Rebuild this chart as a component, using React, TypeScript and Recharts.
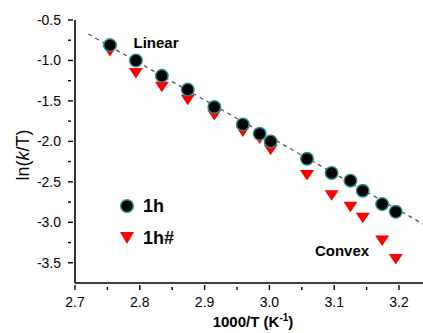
import {
  ComposedChart, Scatter, XAxis, YAxis, ReferenceLine, ReferenceDot,
} from 'recharts'

// 1000/T values shared by both samples
const invT = [2.754, 2.794, 2.834, 2.874, 2.915, 2.959, 2.985, 3.002, 3.058, 3.096, 3.125, 3.144, 3.174, 3.195]
// ln(k/T), sample 1h
const ln1h = [-0.81, -1.0, -1.19, -1.36, -1.575, -1.79, -1.906, -2.0, -2.215, -2.39, -2.485, -2.61, -2.775, -2.87]
// ln(k/T), sample 1h#
const ln1hHash = [-0.87, -1.14, -1.31, -1.47, -1.66, -1.865, -1.95, -2.09, -2.4, -2.65, -2.795, -2.93, -3.21, -3.44]
// dashed linear fit ends
const fitX = [2.7206, 3.237]
const fitY = [-0.674, -3.02]

const xTicks = [2.7, 2.75, 2.8, 2.85, 2.9, 2.95, 3.0, 3.05, 3.1, 3.15, 3.2]
const yTicks = [-0.5, -0.75, -1.0, -1.25, -1.5, -1.75, -2.0, -2.25, -2.5, -2.75, -3.0, -3.25, -3.5]

const data1h = invT.map((x, i) => ({ x, y: ln1h[i] }))
const data1hHash = invT.map((x, i) => ({ x, y: ln1hHash[i] }))

const FONT = 'Arial, "Liberation Sans", sans-serif'

const isMajor = (v: number) => Math.round(v * 100) % 50 === 0

const Dot = (p: any) => (
  <circle cx={p.cx} cy={p.cy} r={6.3} fill="#050505" stroke="#2f8f8f" strokeWidth={1.4} />
)

const Tri = (p: any) => {
  const s = 7
  return (
    <polygon
      points={`${p.cx - s},${p.cy - s * 0.55} ${p.cx + s},${p.cy - s * 0.55} ${p.cx},${p.cy + s * 0.95}`}
      fill="#ff0000"
    />
  )
}

const XTick = (p: any) => {
  const v = p.payload.value
  const major = Math.round(v * 100) % 10 === 0
  return (
    <g>
      <line x1={p.x} x2={p.x} y1={p.y - 1} y2={p.y - (major ? 6 : 4)} stroke="#000" strokeWidth={1.4} />
      {major && (
        <text x={p.x} y={p.y + 16} textAnchor="middle" fontSize={14} fontFamily={FONT} fill="#000">
          {v.toFixed(1)}
        </text>
      )}
    </g>
  )
}

const YTick = (p: any) => {
  const v = p.payload.value
  const major = isMajor(v)
  return (
    <g>
      <line x1={p.x + 1} x2={p.x + (major ? 6 : 4)} y1={p.y} y2={p.y} stroke="#000" strokeWidth={1.4} />
      {major && (
        <text x={p.x - 6} y={p.y + 5} textAnchor="end" fontSize={14} fontFamily={FONT} fill="#000">
          {v.toFixed(1)}
        </text>
      )}
    </g>
  )
}

const YLabel = () => (
  <text x={0} y={0} transform="translate(29,155) rotate(-90)" textAnchor="middle" fontSize={18} fontFamily={FONT} fill="#000">
    ln(<tspan fontStyle="italic">k</tspan>/T)
  </text>
)

const XLabel = () => (
  <text x={253} y={327} textAnchor="middle" fontSize={15} fontWeight="bold" fontFamily={FONT} fill="#000">
    1000/T (K<tspan fontSize={10} dy={-6}>-1</tspan><tspan dy={6}>)</tspan>
  </text>
)

export default function App() {
  return (
    <div style={{ position: 'absolute', left: 0, top: 0, width: 423, height: 333, background: '#fff' }}>
      <ComposedChart width={423} height={333} margin={{ top: 20, right: 0, left: 0, bottom: 0 }}>
        <XAxis
          type="number"
          dataKey="x"
          domain={[2.7, 3.237]}
          ticks={xTicks}
          interval={0}
          allowDataOverflow
          height={50}
          axisLine={{ stroke: '#000', strokeWidth: 1.6 }}
          tickLine={false}
          tick={<XTick />}
          label={<XLabel />}
        />
        <YAxis
          type="number"
          dataKey="y"
          domain={[-3.75, -0.5]}
          ticks={yTicks}
          interval={0}
          allowDataOverflow
          width={75}
          axisLine={{ stroke: '#000', strokeWidth: 1.6 }}
          tickLine={false}
          tick={<YTick />}
          label={<YLabel />}
        />
        <Scatter data={data1hHash} shape={<Tri />} isAnimationActive={false} />
        <Scatter data={data1h} shape={<Dot />} isAnimationActive={false} />
        <ReferenceLine
          segment={[{ x: fitX[0], y: fitY[0] }, { x: fitX[1], y: fitY[1] }]}
          stroke="#555"
          strokeWidth={1.3}
          strokeDasharray="4 4"
          ifOverflow="visible"
        />
        <ReferenceDot x={2.825} y={-0.784} r={0} ifOverflow="visible"
          label={{ value: 'Linear', position: 'center', fontSize: 15, fontWeight: 'bold', fontFamily: FONT, fill: '#000' }} />
        <ReferenceDot x={3.112} y={-3.355} r={0} ifOverflow="visible"
          label={{ value: 'Convex', position: 'center', fontSize: 15, fontWeight: 'bold', fontFamily: FONT, fill: '#000' }} />
      </ComposedChart>
      <svg width={80} height={60} style={{ position: 'absolute', left: 118, top: 195 }}>
        <circle cx={9} cy={11} r={6.3} fill="#050505" stroke="#2f8f8f" strokeWidth={1.4} />
        <text x={25} y={17} fontSize={18} fontWeight="bold" fontFamily={FONT}>1h</text>
        <polygon points="2,37 16,37 9,49" fill="#ff0000" />
        <text x={25} y={49} fontSize={18} fontWeight="bold" fontFamily={FONT}>1h#</text>
      </svg>
    </div>
  )
}
